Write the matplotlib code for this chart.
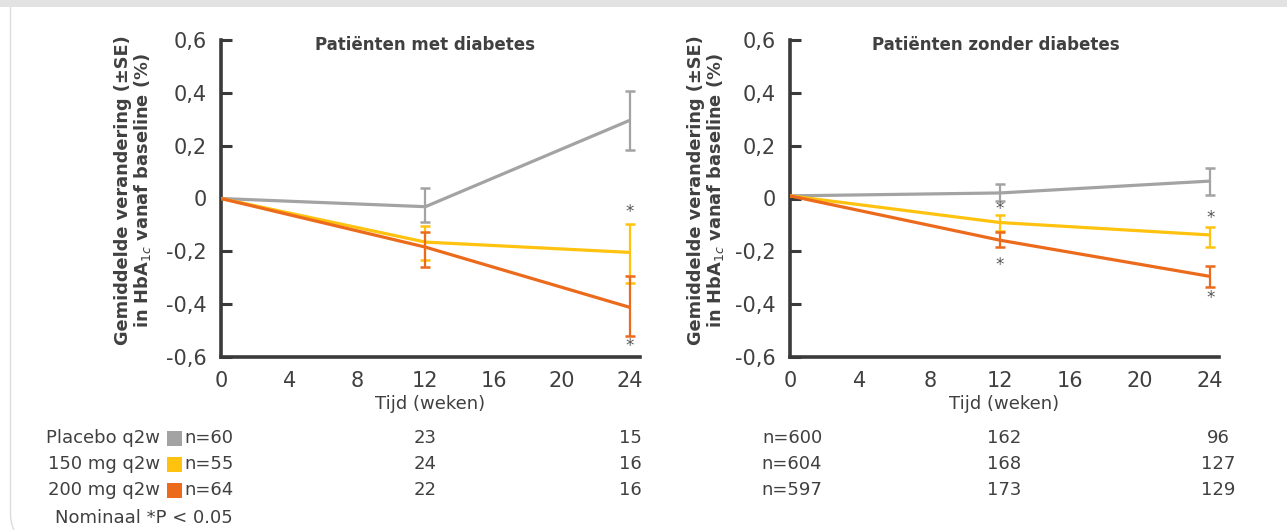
import matplotlib
matplotlib.use("Agg")
import matplotlib.pyplot as plt
from matplotlib.patches import Rectangle, FancyBboxPatch

plt.rcParams['font.family'] = ['DejaVu Sans']

W, H = 1287, 530

weeks = [0, 12, 24]
groups = ["Placebo q2w", "150 mg q2w", "200 mg q2w"]
colors = ["#a3a3a3", "#ffc20e", "#ec6a1c"]

# Patients with diabetes
dm_mean = [[0.0, -0.031, 0.296],
           [0.0, -0.165, -0.204],
           [0.0, -0.184, -0.412]]
dm_upper = [[None, 0.039, 0.406],
            [None, -0.104, -0.096],
            [None, -0.125, -0.295]]
dm_lower = [[None, -0.089, 0.184],
            [None, -0.234, -0.319],
            [None, -0.258, -0.519]]
dm_stars = [(24, -0.05), (24, -0.56)]
dm_n = [["n=60", "23", "15"], ["n=55", "24", "16"], ["n=64", "22", "16"]]

# Patients without diabetes
nd_mean = [[0.01, 0.021, 0.066],
           [0.01, -0.091, -0.138],
           [0.01, -0.158, -0.295]]
nd_upper = [[None, 0.054, 0.115],
            [None, -0.062, -0.107],
            [None, -0.127, -0.257]]
nd_lower = [[None, -0.009, 0.014],
            [None, -0.123, -0.182],
            [None, -0.184, -0.334]]
nd_stars = [(12, -0.04), (12, -0.25), (24, -0.075), (24, -0.375)]
nd_n = [["n=600", "162", "96"], ["n=604", "168", "127"], ["n=597", "173", "129"]]

yticks = [-0.6, -0.4, -0.2, 0, 0.2, 0.4, 0.6]
ytick_labels = ["-0,6", "-0,4", "-0,2", "0", "0,2", "0,4", "0,6"]
xticks = [0, 4, 8, 12, 16, 20, 24]

titles = ["Patiënten met diabetes", "Patiënten zonder diabetes"]
title_x = [11.96, 11.77]
ylabel = "Gemiddelde verandering (±SE)\nin HbA$_{1c}$ vanaf baseline (%)"
xlabel = "Tijd (weken)"
footnote = "Nominaal *P < 0.05"

txt = "#404040"
spine_c = "#3a3a3a"

fig = plt.figure(figsize=(W / 100, H / 100), dpi=100)
fig.patch.set_facecolor("white")

def fx(x):
    return x / W

def fy(y):
    return 1 - y / H

# background decoration: rounded panel and top strip
fig.patches.append(FancyBboxPatch((fx(10.5), fy(545)), 1.2, (545 + 150) / H,
                                  boxstyle="round,pad=0,rounding_size=0.025",
                                  mutation_aspect=W / H,
                                  transform=fig.transFigure, facecolor="none",
                                  edgecolor="#dcdcdc", linewidth=1.0, zorder=0))
fig.patches.append(Rectangle((0, fy(7)), 1, 7 / H + 0.01, transform=fig.transFigure,
                             facecolor="#e2e2e2", edgecolor="none", zorder=1))

def make_axes(left_px, right_px, xmax):
    ax = fig.add_axes([fx(left_px), fy(357), fx(right_px - left_px), (357 - 40) / H])
    ax.set_xlim(0, xmax)
    ax.set_ylim(-0.6, 0.6)
    return ax

axes = [make_axes(221, 640, 24.6), make_axes(790, 1219, 24.5)]
means = [dm_mean, nd_mean]
uppers = [dm_upper, nd_upper]
lowers = [dm_lower, nd_lower]
stars = [dm_stars, nd_stars]
label_x = [-0.162, -0.15]

for k, ax in enumerate(axes):
    for i in range(3):
        m = means[k][i]
        ax.plot(weeks, m, color=colors[i], lw=2.3, zorder=3 + i, solid_capstyle="butt")
        xs, ys, lo, hi = [], [], [], []
        for j in range(1, 3):
            xs.append(weeks[j]); ys.append(m[j])
            lo.append(m[j] - lowers[k][i][j]); hi.append(uppers[k][i][j] - m[j])
        ax.errorbar(xs, ys, yerr=[lo, hi], fmt="none", ecolor=colors[i],
                    elinewidth=1.6, capsize=3.3, capthick=1.8, zorder=3 + i)
    for (sx, sy) in stars[k]:
        ax.text(sx, sy, "*", ha="center", va="center", fontsize=12, color="#555555", zorder=10)
    for s in ["top", "right"]:
        ax.spines[s].set_visible(False)
    for s in ["left", "bottom"]:
        ax.spines[s].set_color(spine_c)
        ax.spines[s].set_linewidth(2.6)
    ax.set_yticks(yticks)
    ax.set_yticklabels(ytick_labels)
    ax.set_xticks(xticks)
    ax.tick_params(axis="y", direction="in", length=8, width=2.2, color=spine_c,
                   labelsize=15, labelcolor=txt, pad=10)
    ax.tick_params(axis="x", length=0, labelsize=15, labelcolor=txt, pad=10)
    ax.set_xlabel(xlabel, fontsize=13, color=txt, labelpad=3)
    ax.set_ylabel(ylabel, fontsize=12.8, fontweight="bold", color=txt, linespacing=1.0)
    ax.yaxis.set_label_coords(label_x[k], 0.525)
    ax.text(title_x[k], 0.581, titles[k], ha="center", va="center",
            fontsize=12, fontweight="bold", color=txt)
    ax.set_facecolor("none")

# table under the charts
row_y = [438, 464, 490]
fs = 13
for i in range(3):
    y = fy(row_y[i])
    fig.text(fx(160), y, groups[i], ha="right", va="center", fontsize=fs, color=txt)
    fig.patches.append(Rectangle((fx(167), fy(row_y[i] + 7.5)), 15 / W, 15 / H,
                                 transform=fig.transFigure, facecolor=colors[i],
                                 edgecolor="none"))
    fig.text(fx(184), y, dm_n[i][0], ha="left", va="center", fontsize=fs, color=txt)
    fig.text(fx(425), y, dm_n[i][1], ha="center", va="center", fontsize=fs, color=txt)
    fig.text(fx(630), y, dm_n[i][2], ha="center", va="center", fontsize=fs, color=txt)
    fig.text(fx(792), y, nd_n[i][0], ha="center", va="center", fontsize=fs, color=txt)
    fig.text(fx(1004), y, nd_n[i][1], ha="center", va="center", fontsize=fs, color=txt)
    fig.text(fx(1218), y, nd_n[i][2], ha="center", va="center", fontsize=fs, color=txt)

fig.text(fx(55), fy(518), footnote, ha="left", va="center", fontsize=fs, color=txt)

fig.savefig("out.png", dpi=100, facecolor="white")
